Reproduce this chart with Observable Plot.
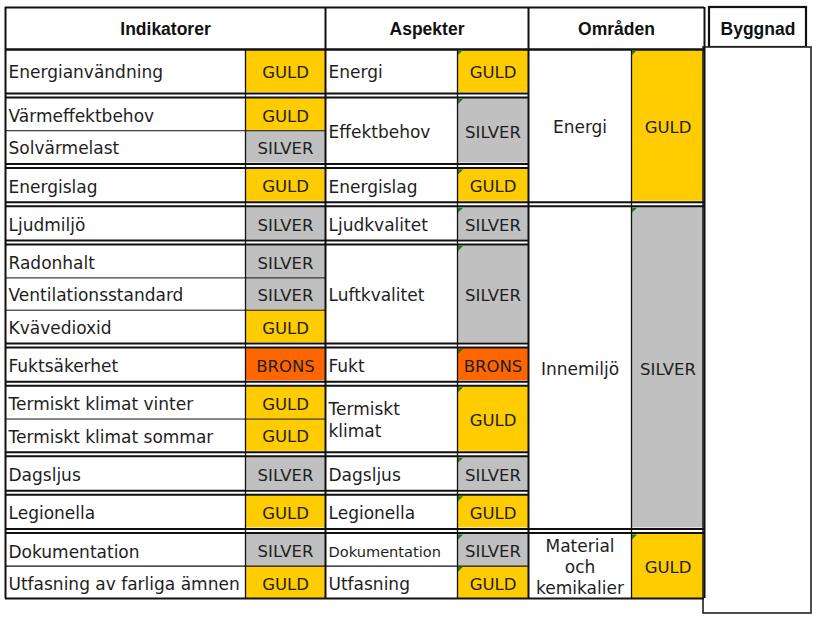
<!DOCTYPE html>
<html>
<head>
<meta charset="utf-8">
<script src="https://cdn.jsdelivr.net/npm/d3@7"></script>
<script src="https://cdn.jsdelivr.net/npm/@observablehq/plot@0.6"></script>
<style>
  html, body { margin: 0; padding: 0; background: #fff; }
  #chart svg { display: block; }
</style>
</head>
<body>
<div id="chart"></div>
<script>
// ---------- DATA ----------
const headers = ["Indikatorer", "Aspekter", "Områden", "Byggnad"];

const indicators = [
  "Energianvändning", "Värmeffektbehov", "Solvärmelast", "Energislag",
  "Ljudmiljö", "Radonhalt", "Ventilationsstandard", "Kvävedioxid",
  "Fuktsäkerhet", "Termiskt klimat vinter", "Termiskt klimat sommar",
  "Dagsljus", "Legionella", "Dokumentation", "Utfasning av farliga ämnen"
];
const indicatorGrades = [
  "GULD", "GULD", "SILVER", "GULD",
  "SILVER", "SILVER", "SILVER", "GULD",
  "BRONS", "GULD", "GULD",
  "SILVER", "GULD", "SILVER", "GULD"
];

const aspects = [
  "Energi", "Effektbehov", "Energislag", "Ljudkvalitet", "Luftkvalitet",
  "Fukt", "Termiskt\nklimat", "Dagsljus", "Legionella", "Dokumentation", "Utfasning"
];
const aspectIndicatorCounts = [1, 2, 1, 1, 3, 1, 2, 1, 1, 1, 1];
const aspectGrades = [
  "GULD", "SILVER", "GULD", "SILVER", "SILVER",
  "BRONS", "GULD", "SILVER", "GULD", "SILVER", "GULD"
];

const areas = ["Energi", "Innemiljö", "Material\noch\nkemikalier"];
const areaAspectCounts = [3, 6, 2];
const areaGrades = ["GULD", "SILVER", "GULD"];

const grades = ["GULD", "SILVER", "BRONS"];

// ---------- LAYOUT (styling only) ----------
const W = 824, H = 617;
const colEdges = [5, 245, 325, 457, 528, 631, 704];
const tableTop = 7, headerBottom = 49, tableBottom = 598, gapPx = 6;
const firstRowWeight = 1.33; // first body row is drawn taller
const bygg = { hx1: 709, hx2: 806, hy2: 47, bx1: 703, bx2: 811, by2: 613 };

const areaOfAspect = [];
areaAspectCounts.forEach((n, ai) => { for (let k = 0; k < n; k++) areaOfAspect.push(ai); });
const lastArea = areas.length - 1;
const doubleBefore = aspects.map((_, i) => i > 0 && !(areaOfAspect[i] === lastArea && areaOfAspect[i - 1] === lastArea));
const nGaps = doubleBefore.filter(Boolean).length;
const weights = indicators.map((_, i) => i === 0 ? firstRowWeight : 1);
const rowUnit = (tableBottom - headerBottom - nGaps * gapPx) / d3.sum(weights);

// ---------- BUILD CELLS ----------
const indRows = [], aspCells = [], gaps = [], thinLines = [];
let y = headerBottom, r = 0;
aspects.forEach((a, ai) => {
  if (doubleBefore[ai]) {
    const crossArea = areaOfAspect[ai] !== areaOfAspect[ai - 1];
    gaps.push({ y1: y, y2: y + gapPx, x2: crossArea ? colEdges[6] : colEdges[4] });
    y += gapPx;
  } else if (ai > 0) {
    thinLines.push({ y, x1: colEdges[0], x2: colEdges[4], w: 1.3 });
  }
  const start = y;
  for (let k = 0; k < aspectIndicatorCounts[ai]; k++) {
    if (k > 0) thinLines.push({ y, x1: colEdges[0], x2: colEdges[2], w: 1 });
    const h = rowUnit * weights[r];
    indRows.push({ name: indicators[r], grade: indicatorGrades[r], y1: y, y2: y + h });
    y += h; r++;
  }
  aspCells.push({ name: a, grade: aspectGrades[ai], y1: start, y2: y, small: a === "Dokumentation", multi: a.includes("\n") });
});
const areaCells = [];
let aIdx = 0;
areas.forEach((ar, i) => {
  const first = aspCells[aIdx], last = aspCells[aIdx + areaAspectCounts[i] - 1];
  areaCells.push({ name: ar, grade: areaGrades[i], y1: first.y1, y2: last.y2, multi: ar.includes("\n") });
  aIdx += areaAspectCounts[i];
});

const gradeRects = [
  ...indRows.map(d => ({ x1: colEdges[1], x2: colEdges[2], y1: d.y1, y2: d.y2, grade: d.grade })),
  ...aspCells.map(d => ({ x1: colEdges[3], x2: colEdges[4], y1: d.y1, y2: d.y2, grade: d.grade })),
  ...areaCells.map(d => ({ x1: colEdges[5], x2: colEdges[6], y1: d.y1, y2: d.y2, grade: d.grade }))
];

const tri = [];
[...aspCells.map(d => ({ x: colEdges[3], y: d.y1 })), ...areaCells.map(d => ({ x: colEdges[5], y: d.y1 }))]
  .forEach((c, i) => {
    tri.push({ id: i, x: c.x + 1, y1: c.y + 1, y2: c.y + 6 });
    tri.push({ id: i, x: c.x + 6, y1: c.y + 1, y2: c.y + 1 });
  });

const hLines = [
  { y: tableTop, x1: colEdges[0], x2: colEdges[6], w: 2 },
  { y: headerBottom, x1: colEdges[0], x2: colEdges[6], w: 2.5 },
  { y: tableBottom, x1: colEdges[0], x2: colEdges[6], w: 2 },
  ...thinLines
];
gaps.forEach(g => {
  hLines.push({ y: g.y1 + 1, x1: colEdges[0], x2: g.x2, w: 2 });
  hLines.push({ y: g.y2 - 1, x1: colEdges[0], x2: g.x2, w: 2 });
});
const vLines = [
  { x: colEdges[0], y1: tableTop, y2: tableBottom, w: 2 },
  { x: colEdges[1], y1: headerBottom, y2: tableBottom, w: 1.3 },
  { x: colEdges[2], y1: tableTop, y2: tableBottom, w: 2 },
  { x: colEdges[3], y1: headerBottom, y2: tableBottom, w: 1.3 },
  { x: colEdges[4], y1: tableTop, y2: tableBottom, w: 2 },
  { x: colEdges[5], y1: headerBottom, y2: tableBottom, w: 1.3 },
  { x: colEdges[6], y1: tableTop, y2: tableBottom, w: 2 }
];

const headerCells = [
  { t: headers[0], x: (colEdges[0] + colEdges[2]) / 2 },
  { t: headers[1], x: (colEdges[2] + colEdges[4]) / 2 },
  { t: headers[2], x: (colEdges[4] + colEdges[6]) / 2 },
  { t: headers[3], x: (bygg.hx1 + bygg.hx2) / 2 }
];

const bodyFont = "DejaVu Sans, Verdana, sans-serif";
const headFont = "Liberation Sans, Arial, sans-serif";
const ink = "#1e1e1e";
const nameSize = 17, gradeSize = 16.5, nudge = 2;
const mid = d => (d.y1 + d.y2) / 2;

const chart = Plot.plot({
  width: W, height: H, margin: 0,
  x: { domain: [0, W], range: [0, W], axis: null },
  y: { domain: [0, H], range: [0, H], axis: null },
  color: { domain: grades, range: ["#FFCC00", "#C0C0C0", "#FF6600"] },
  style: { background: "#fff" },
  marks: [
    Plot.rect(gradeRects, { x1: "x1", x2: "x2", y1: "y1", y2: "y2", fill: "grade" }),
    Plot.rect([bygg], { x1: "hx1", x2: "hx2", y1: () => tableTop, y2: "hy2", fill: "#fff", stroke: "#111", strokeWidth: 2.2 }),
    Plot.rect([bygg], { x1: "bx1", x2: "bx2", y1: "hy2", y2: "by2", fill: "#fff", stroke: "#222", strokeWidth: 1.6 }),
    Plot.ruleY(hLines, { y: "y", x1: "x1", x2: "x2", stroke: "#111", strokeWidth: "w" }),
    Plot.ruleX(vLines, { x: "x", y1: "y1", y2: "y2", stroke: "#111", strokeWidth: "w" }),
    Plot.areaY(tri, { x: "x", y1: "y1", y2: "y2", z: "id", fill: "#1f7a1f", curve: "linear" }),
    Plot.text(headerCells, { x: "x", y: () => (tableTop + headerBottom) / 2, dy: 1, text: "t", fontFamily: headFont, fontWeight: "bold", fontSize: 17.5, fill: "#111" }),
    Plot.text(indRows, { x: () => colEdges[0] + 3, y: mid, dy: nudge, text: "name", textAnchor: "start", fontFamily: bodyFont, fontSize: nameSize, fill: ink }),
    Plot.text(indRows, { x: () => (colEdges[1] + colEdges[2]) / 2, y: mid, dy: nudge, text: "grade", fontFamily: bodyFont, fontSize: gradeSize, fill: ink }),
    Plot.text(aspCells.filter(d => !d.small && !d.multi), { x: () => colEdges[2] + 3, y: mid, dy: nudge, text: "name", textAnchor: "start", fontFamily: bodyFont, fontSize: nameSize, fill: ink }),
    Plot.text(aspCells.filter(d => d.multi), { x: () => colEdges[2] + 3, y: mid, text: "name", textAnchor: "start", fontFamily: bodyFont, fontSize: nameSize, lineHeight: 1.3, fill: ink }),
    Plot.text(aspCells.filter(d => d.small), { x: () => colEdges[2] + 3, y: mid, dy: nudge, text: "name", textAnchor: "start", fontFamily: bodyFont, fontSize: 14.6, fill: ink }),
    Plot.text(aspCells, { x: () => (colEdges[3] + colEdges[4]) / 2, y: mid, dy: nudge, text: "grade", fontFamily: bodyFont, fontSize: gradeSize, fill: ink }),
    Plot.text(areaCells.filter(d => !d.multi), { x: () => (colEdges[4] + colEdges[5]) / 2, y: mid, dy: nudge, text: "name", fontFamily: bodyFont, fontSize: nameSize, fill: ink }),
    Plot.text(areaCells.filter(d => d.multi), { x: () => (colEdges[4] + colEdges[5]) / 2, y: mid, text: "name", fontFamily: bodyFont, fontSize: nameSize, lineHeight: 1.25, fill: ink }),
    Plot.text(areaCells, { x: () => (colEdges[5] + colEdges[6]) / 2, y: mid, dy: nudge, text: "grade", fontFamily: bodyFont, fontSize: gradeSize, fill: ink })
  ]
});
document.getElementById("chart").appendChild(chart);
</script>
</body>
</html>
